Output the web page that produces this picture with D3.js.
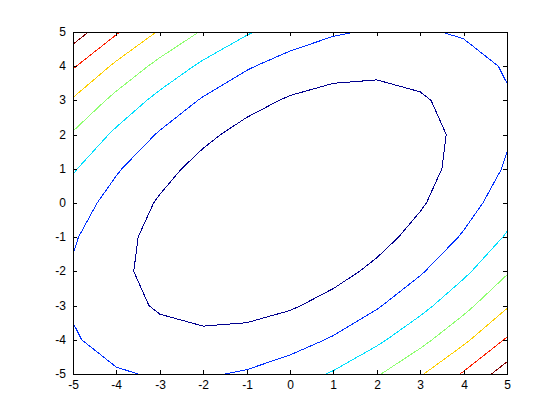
<!DOCTYPE html>
<html>
<head>
<meta charset="utf-8">
<script src="https://cdn.jsdelivr.net/npm/d3@7"></script>
<style>
  body { margin: 0; background: #fff; }
  svg { display: block; }
</style>
</head>
<body>
<script>
// grid the contours were computed from
var xs = [-5, -4, -3, -2, -1, 0, 1, 2, 3, 4, 5];
var ys = [-5, -4, -3, -2, -1, 0, 1, 2, 3, 4, 5];
// z values, one row per y (y = -5 first), columns x = -5..5
var zRows = [
  [25, 21, 19, 19, 21, 25, 31, 39, 49, 61, 75],
  [21, 16, 13, 12, 13, 16, 21, 28, 37, 48, 61],
  [19, 13,  9,  7,  7,  9, 13, 19, 27, 37, 49],
  [19, 12,  7,  4,  3,  4,  7, 12, 19, 28, 39],
  [21, 13,  7,  3,  1,  1,  3,  7, 13, 21, 31],
  [25, 16,  9,  4,  1,  0,  1,  4,  9, 16, 25],
  [31, 21, 13,  7,  3,  1,  1,  3,  7, 13, 21],
  [39, 28, 19, 12,  7,  4,  3,  4,  7, 12, 19],
  [49, 37, 27, 19, 13,  9,  7,  7,  9, 13, 19],
  [61, 48, 37, 28, 21, 16, 13, 12, 13, 16, 21],
  [75, 61, 49, 39, 31, 25, 21, 19, 19, 21, 25]
];
var levels = [10, 20, 30, 40, 50, 60, 70];
var levelColors = ['#00008f', '#0030ff', '#00dfff', '#8fff70', '#ffcf00', '#ff2000', '#800000'];
var xTicks = [-5, -4, -3, -2, -1, 0, 1, 2, 3, 4, 5];
var yTicks = [-5, -4, -3, -2, -1, 0, 1, 2, 3, 4, 5];

var W = 560, H = 420;
var plotLeft = 73, plotRight = 507, plotTop = 32, plotBottom = 374;

var svg = d3.select('body').append('svg')
  .attr('width', W)
  .attr('height', H);

var x = d3.scaleLinear().domain([-5, 5]).range([plotLeft, plotRight]);
var y = d3.scaleLinear().domain([-5, 5]).range([plotBottom, plotTop]);

// marching squares -> polylines (linear interpolation on the grid)
var contourLines = function(level){
  var pts = {};
  var adj = {};
  var cross = function(key, xa, ya, za, xb, yb, zb){
    if ((za < level) === (zb < level)) return null;
    if (!pts[key]) {
      var t = (level - za) / (zb - za);
      pts[key] = [xa + t * (xb - xa), ya + t * (yb - ya)];
    }
    return key;
  };
  var link = function(a, b){
    (adj[a] = adj[a] || []).push(b);
    (adj[b] = adj[b] || []).push(a);
  };
  for (var j = 0; j < ys.length - 1; j++){
    for (var i = 0; i < xs.length - 1; i++){
      var z00 = zRows[j][i], z10 = zRows[j][i+1], z01 = zRows[j+1][i], z11 = zRows[j+1][i+1];
      var e = [
        cross('h' + i + '_' + j, xs[i], ys[j], z00, xs[i+1], ys[j], z10),
        cross('v' + (i+1) + '_' + j, xs[i+1], ys[j], z10, xs[i+1], ys[j+1], z11),
        cross('h' + i + '_' + (j+1), xs[i], ys[j+1], z01, xs[i+1], ys[j+1], z11),
        cross('v' + i + '_' + j, xs[i], ys[j], z00, xs[i], ys[j+1], z01)
      ].filter(function(k){ return k !== null; });
      if (e.length === 2) link(e[0], e[1]);
      else if (e.length === 4) {
        var c = (z00 + z10 + z01 + z11) / 4;
        if ((c < level) === (z00 < level)) { link(e[0], e[1]); link(e[2], e[3]); }
        else { link(e[0], e[3]); link(e[1], e[2]); }
      }
    }
  }
  var used = {};
  var lines = [];
  var walk = function(start){
    var line = [pts[start]];
    used[start] = true;
    var cur = start;
    while (true) {
      var next = (adj[cur] || []).filter(function(k){ return !used[k]; })[0];
      if (!next) {
        if (adj[cur] && adj[cur].indexOf(start) >= 0 && line.length > 2) line.push(pts[start]);
        break;
      }
      used[next] = true;
      line.push(pts[next]);
      cur = next;
    }
    lines.push(line);
  };
  Object.keys(adj).forEach(function(k){ if (adj[k].length === 1 && !used[k]) walk(k); });
  Object.keys(adj).forEach(function(k){ if (!used[k]) walk(k); });
  return lines;
};

var lineGen = d3.line()
  .x(function(d){ return x(d[0]); })
  .y(function(d){ return y(d[1]); });

var plot = svg.append('g');
levels.forEach(function(lv, li){
  plot.selectAll(null)
    .data(contourLines(lv))
    .enter()
    .append('path')
    .attr('d', lineGen)
    .attr('fill', 'none')
    .attr('stroke', levelColors[li])
    .attr('stroke-width', 1)
    .attr('shape-rendering', 'crispEdges');
});

// axes, ticks point inward on all four sides
var xa = x.copy().interpolate(d3.interpolateRound);
var ya = y.copy().interpolate(d3.interpolateRound);
var fmt = function(d){ return String(d); };

var styleAxis = function(g){
  g.attr('font-family', '"Liberation Sans", Arial, sans-serif').attr('font-size', 12);
  g.select('.domain').remove();
  g.selectAll('line').attr('stroke', '#000');
  g.selectAll('text').attr('fill', '#000');
};

svg.append('g')
  .attr('transform', 'translate(0,' + plotBottom + ')')
  .call(d3.axisBottom(xa).tickValues(xTicks).tickFormat(fmt).tickSizeInner(-4).tickSizeOuter(0).tickPadding(6))
  .call(styleAxis);

svg.append('g')
  .attr('transform', 'translate(' + plotLeft + ',0)')
  .call(d3.axisLeft(ya).tickValues(yTicks).tickFormat(fmt).tickSizeInner(-4).tickSizeOuter(0).tickPadding(7))
  .call(styleAxis);

svg.append('g')
  .attr('transform', 'translate(0,' + plotTop + ')')
  .call(d3.axisTop(xa).tickValues(xTicks).tickFormat('').tickSizeInner(-4).tickSizeOuter(0))
  .call(styleAxis);

svg.append('g')
  .attr('transform', 'translate(' + plotRight + ',0)')
  .call(d3.axisRight(ya).tickValues(yTicks).tickFormat('').tickSizeInner(-4).tickSizeOuter(0))
  .call(styleAxis);

svg.append('rect')
  .attr('x', plotLeft + 0.5)
  .attr('y', plotTop + 0.5)
  .attr('width', plotRight - plotLeft)
  .attr('height', plotBottom - plotTop)
  .attr('fill', 'none')
  .attr('stroke', '#000')
  .attr('stroke-width', 1);
</script>
</body>
</html>
